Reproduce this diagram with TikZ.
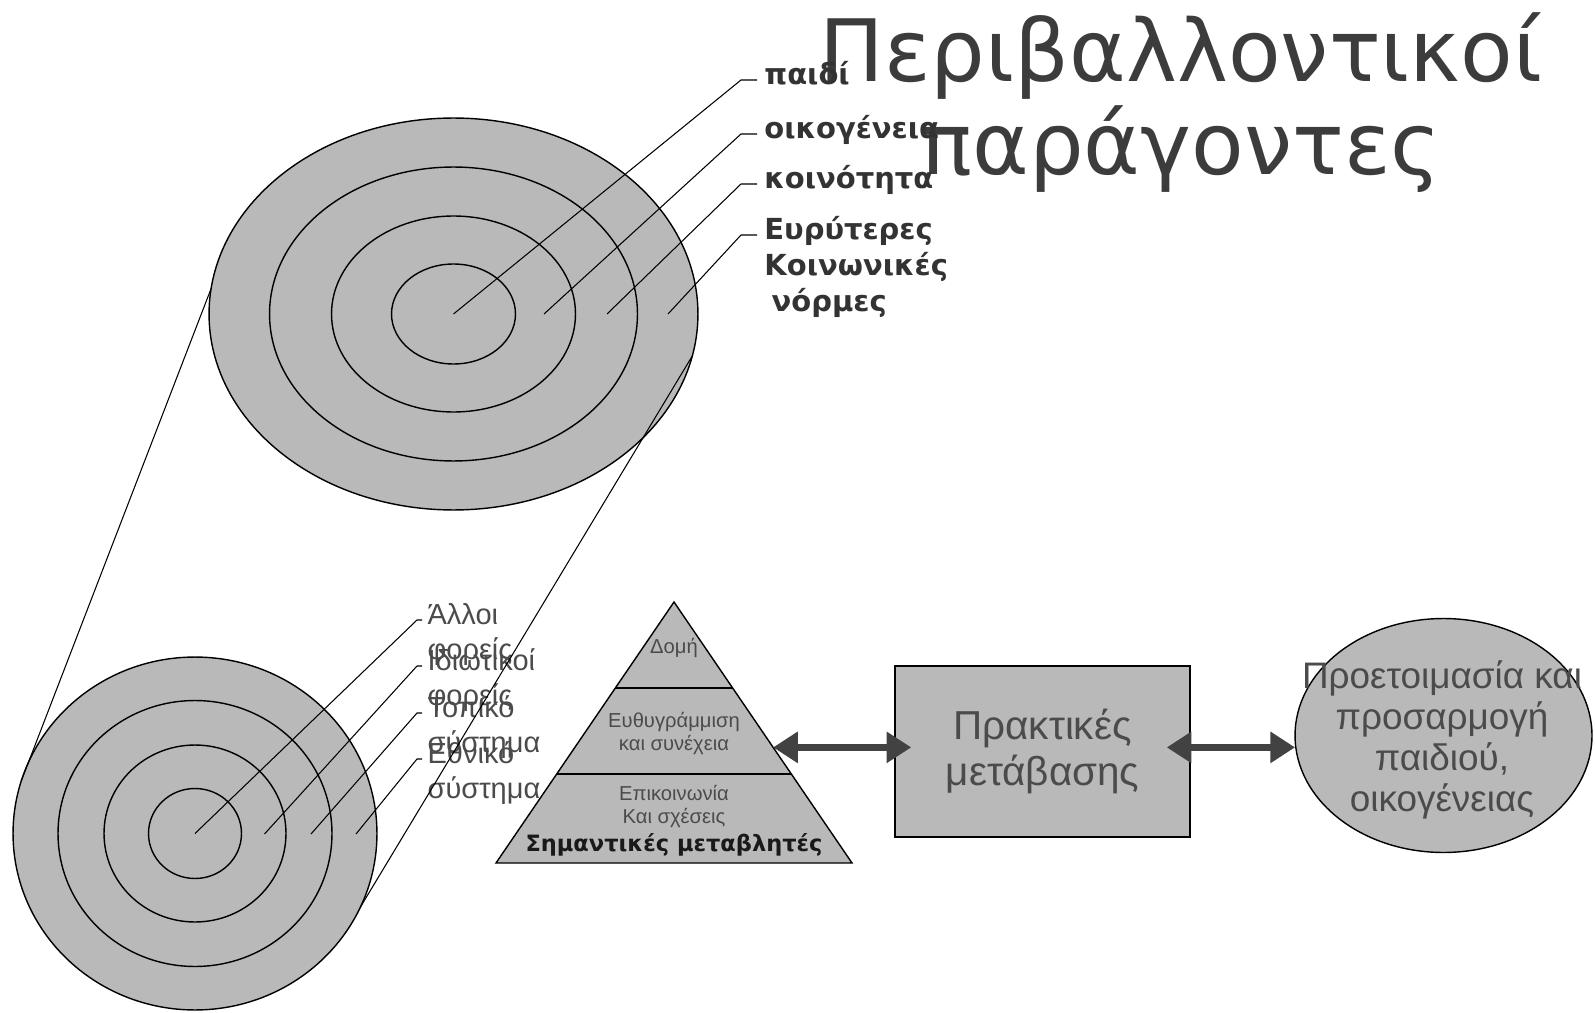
\documentclass[tikz,border=0pt]{standalone}
\usepackage{fontspec}
\setmainfont{Liberation Sans}
\newfontfamily\vfont{DejaVu Sans}
\usetikzlibrary{positioning,calc,shapes.geometric,arrows.meta}

\definecolor{ringfill}{RGB}{185,185,185}
\definecolor{inkgray}{RGB}{75,75,75}
\definecolor{titlegray}{RGB}{60,60,60}
\definecolor{arrowgray}{RGB}{66,66,66}

% first line carries the baseline
\newcommand{\lblstack}[1]{\begin{tabular}[t]{@{}l@{}}#1\end{tabular}}

\tikzset{
  ring/.style={ellipse, draw=black, line width=0.8pt, fill=ringfill, inner sep=0pt, outer sep=0pt},
  leader/.style={draw=black, line width=0.6pt},
  toplabel/.style={inner sep=4pt, anchor=mid west, text=black!80,
    font=\vfont\bfseries\fontsize{16.5}{20.5}\selectfont},
  lowlabel/.style={inner sep=3pt, anchor=mid west, text=inkgray,
    font=\fontsize{16.5}{19.8}\selectfont},
  pyrtext/.style={text=inkgray, align=center, font=\fontsize{11.5}{12.7}\selectfont},
  boxtext/.style={text=inkgray, align=center},
  twoway/.style={draw=arrowgray, line width=4pt,
    {Triangle[length=14pt,width=17pt]}-{Triangle[length=14pt,width=17pt]}},
}

\begin{document}
\begin{tikzpicture}[x=0.02cm, y=-0.02cm]
\useasboundingbox (0,0) rectangle (1595,1013);
\fill[white] (0,0) rectangle (1595,1013);

%Title
\node[font=\vfont\fontsize{49}{53.3}\selectfont, text=titlegray, align=center, anchor=base]
    (Title) at (1181,175) {Περιβαλλοντικοί\\παράγοντες};

%Top rings
\node[ring, minimum width=9.78cm, minimum height=7.84cm] (Wide)  at (453.5,314) {};
\node[ring, minimum width=7.36cm, minimum height=5.88cm] (Comm)  at (Wide.center) {};
\node[ring, minimum width=4.88cm, minimum height=3.92cm] (Fam)   at (Wide.center) {};
\node[ring, minimum width=2.48cm, minimum height=2.0cm]  (Child) at (Wide.center) {};

%Bottom rings
\node[ring, minimum width=7.28cm, minimum height=7.06cm] (Nat)   at (195,833.5) {};
\node[ring, minimum width=5.48cm, minimum height=5.32cm] (Loc)   at (Nat.center) {};
\node[ring, minimum width=3.64cm, minimum height=3.54cm] (Priv)  at (Nat.center) {};
\node[ring, minimum width=1.86cm, minimum height=1.8cm]  (Other) at (Nat.center) {};

%Top labels
\node[toplabel] (ChildLbl) at (757,80)  {παιδί};
\node[toplabel] (FamLbl)   at (757,134) {οικογένεια};
\node[toplabel] (CommLbl)  at (757,184) {κοινότητα};
\node[toplabel] (WideLbl)  at (757,235) {\lblstack{Ευρύτερες\\Κοινωνικές\\\hspace*{0.25em}νόρμες}};

%Bottom labels
\node[lowlabel] (OtherLbl) at (422,620) {\lblstack{Άλλοι\\φορείς}};
\node[lowlabel] (PrivLbl)  at (422,666) {\lblstack{Ιδιωτικοί\\φορείς}};
\node[lowlabel] (LocLbl)   at (422,713) {\lblstack{Τοπικό\\σύστημα}};
\node[lowlabel] (NatLbl)   at (422,759) {\lblstack{Εθνικό\\σύστημα}};

%Leader points
\coordinate (ChildIn) at (Wide.center);
\coordinate (FamIn)   at (544,314);
\coordinate (CommIn)  at (607,314);
\coordinate (WideIn)  at (668,314);
\coordinate (ChildTip) at (741,80);
\coordinate (FamTip)   at (741,134);
\coordinate (CommTip)  at (741,184);
\coordinate (WideTip)  at (741,235);

\coordinate (OtherIn) at (Nat.center);
\coordinate (PrivIn)  at (264.5,834);
\coordinate (LocIn)   at (311,834);
\coordinate (NatIn)   at (356,834);
\coordinate (OtherTip) at (417,620);
\coordinate (PrivTip)  at (417,666);
\coordinate (LocTip)   at (417,713);
\coordinate (NatTip)   at (417,759);

%Leaders
\draw[leader] (ChildIn) -- (ChildTip) -- (ChildLbl.mid west);
\draw[leader] (FamIn)   -- (FamTip)   -- (FamLbl.mid west);
\draw[leader] (CommIn)  -- (CommTip)  -- (CommLbl.mid west);
\draw[leader] (WideIn)  -- (WideTip)  -- (WideLbl.mid west);

\draw[leader] (OtherIn) -- (OtherTip) -- (OtherLbl.mid west);
\draw[leader] (PrivIn)  -- (PrivTip)  -- (PrivLbl.mid west);
\draw[leader] (LocIn)   -- (LocTip)   -- (LocLbl.mid west);
\draw[leader] (NatIn)   -- (NatTip)   -- (NatLbl.mid west);

%Zoom lines
\draw[leader] (Wide.174) -- (Nat.163);
\draw[leader] (Wide.350) -- (Nat.336);

%Pyramid
\coordinate (Apex)  at (674,602);
\coordinate (BaseL) at (496,863);
\coordinate (BaseR) at (852,863);
\filldraw[fill=ringfill, draw=black, line width=0.8pt] (Apex) -- (BaseR) -- (BaseL) -- cycle;
\draw[line width=1pt] ($(Apex)!0.33!(BaseL)$) -- ($(Apex)!0.33!(BaseR)$);
\draw[line width=1pt] ($(Apex)!0.66!(BaseL)$) -- ($(Apex)!0.66!(BaseR)$);

\node[pyrtext] (Dome)  at (674,648)   {Δομή};
\node[pyrtext] (Align) at (674,733.5) {Ευθυγράμμιση\\και συνέχεια};
\node[pyrtext] (Talk)  at (674,806.5) {Επικοινωνία\\Και σχέσεις};
\node[font=\vfont\bfseries\fontsize{12.8}{15}\selectfont, text=black!90]
    (Vars) at (674,845) {Σημαντικές μεταβλητές};

%Practice box and outcome
\node[draw=black, line width=0.9pt, fill=ringfill, minimum width=5.9cm, minimum height=3.42cm,
    boxtext, font=\fontsize{23}{26}\selectfont] (Practice) at (1042.5,751.5) {Πρακτικές\\μετάβασης};
\node[ring, minimum width=5.94cm, minimum height=4.68cm] (Ready) at (1443.5,735.5) {};
\node[boxtext, font=\fontsize{21}{23.2}\selectfont] (ReadyTxt) at (1442,740)
    {Προετοιμασία και\\προσαρμογή\\παιδιού,\\οικογένειας};

%Arrows
\coordinate (PyrEdge) at ($(Apex)!0.557!(BaseR)$);
\draw[twoway] (PyrEdge) -- ($(PyrEdge -| Practice.west)+(17,0)$);
\draw[twoway] ($(PyrEdge -| Practice.east)+(-24,0)$) -- (PyrEdge -| Ready.west);
\end{tikzpicture}
\end{document}
